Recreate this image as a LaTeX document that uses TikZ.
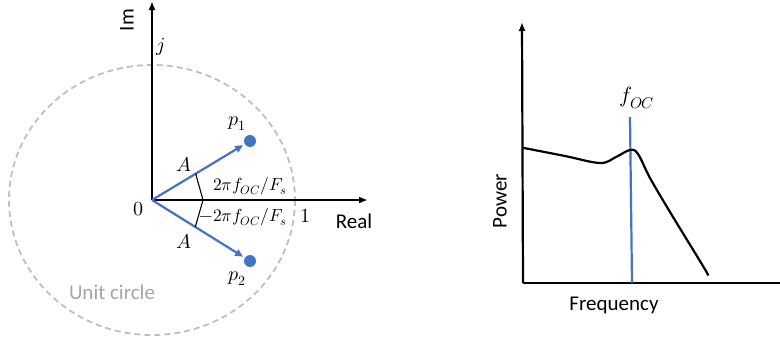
\documentclass[tikz,border=0pt]{standalone}
\usepackage{fontspec}
\setmainfont{Carlito}
\usepackage{unicode-math}
\setmathfont{Latin Modern Math}
\usetikzlibrary{arrows.meta,calc}
\definecolor{poleblue}{HTML}{4472C4}
\definecolor{circlegray}{HTML}{BFBFBF}
\definecolor{textgray}{HTML}{A6A6A6}
\tikzset{
  axis/.style={line width=2.2pt,-{Latex[length=9pt,width=7pt]}},
  pole/.style={poleblue,line width=2.2pt,-{Triangle[length=8pt,width=7pt]}},
  lbl/.style={font=\fontsize{21}{25}\selectfont,inner sep=0pt},
  mlbl/.style={font=\fontsize{20}{24}\selectfont,inner sep=0pt},
  wlbl/.style={font=\fontsize{17.5}{20}\selectfont,inner sep=0pt}
}
\begin{document}
\begin{tikzpicture}[x=1pt,y=-1pt]
\useasboundingbox (0,0) rectangle (780,341);
% z-plane
\coordinate (O) at (152,200);
\draw[circlegray,line width=1.8pt,dash pattern=on 6pt off 4pt] (O) ellipse[x radius=143,y radius=135];
\draw[axis] (O) -- (152,1);
\draw[axis] (O) -- (368,200);
\fill[poleblue] (250,141) circle (6) coordinate (p1);
\fill[poleblue] (250,261) circle (6) coordinate (p2);
\draw[pole] (O) -- ($(O)!0.93!(p1)$);
\draw[pole] (O) -- ($(O)!0.93!(p2)$);
\draw[line width=1.1pt] ($(O)!51pt!(p1)$) -- (203,200) -- ($(O)!51pt!(p2)$);
\node[lbl,rotate=90] (im) at (127,20) {Im};
\node[mlbl] (jl) at (161,47) {$j$};
\node[mlbl] (zero) at (138,209) {$0$};
\node[mlbl] (one) at (305,216) {$1$};
\node[lbl] (real) at (354,221) {Real};
\node[mlbl] (p1l) at (237,124) {$p_1$};
\node[mlbl] (p2l) at (237,279) {$p_2$};
\node[mlbl] (aup) at (184,164) {$A$};
\node[mlbl] (adn) at (184,241) {$A$};
\node[wlbl] (wpos) at (250,186) {$2\pi f_{OC}/F_s$};
\node[wlbl] (wneg) at (243,217) {$-2\pi f_{OC}/F_s$};
\node[lbl,textgray] (unit) at (112,292) {Unit circle};
% spectrum
\draw[axis] (523,283) -- (522,22);
\draw[line width=2.2pt] (523,283) -- (780,283);
\draw[poleblue,line width=2.2pt] (630,117) -- (632,283);
\draw[line width=2.2pt,line cap=round] plot[smooth,tension=0.6] coordinates
  {(524,148) (565,156) (600,163) (616,157) (630,150) (638,154) (650,178) (670,212) (703,266) (708,275)};
\node[mlbl,font=\fontsize{22}{26}\selectfont] (foc) at (637,98) {$f_{OC}$};
\node[lbl,rotate=90] (power) at (500,201) {Power};
\node[lbl] (freq) at (614,305) {Frequency};
\end{tikzpicture}
\end{document}
